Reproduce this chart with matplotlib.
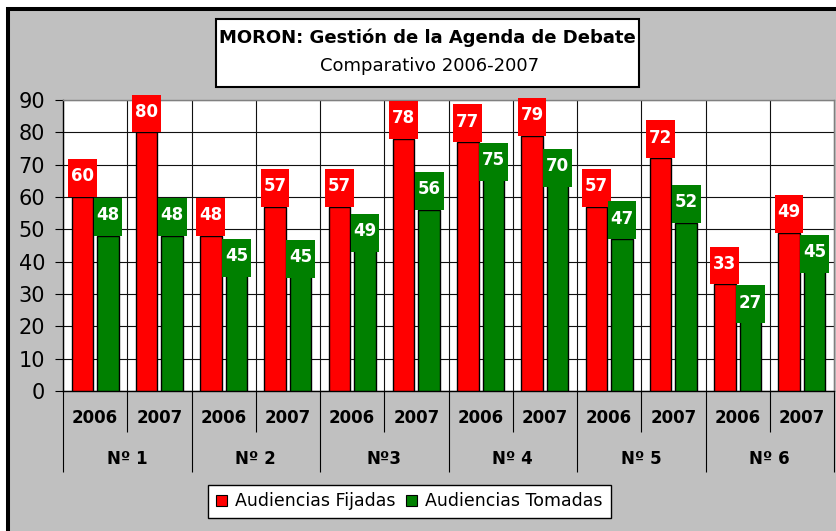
import matplotlib
matplotlib.use("Agg")
import matplotlib.pyplot as plt
from matplotlib.patches import Rectangle, Patch
import numpy as np

# ---- data ----
groups = ["Nº 1", "Nº 2", "Nº3", "Nº 4", "Nº 5", "Nº 6"]
years = ["2006", "2007"]
fijadas = [60, 80, 48, 57, 57, 78, 77, 79, 57, 72, 33, 49]
tomadas = [48, 48, 45, 45, 49, 56, 75, 70, 47, 52, 27, 45]
series_names = ["Audiencias Fijadas", "Audiencias Tomadas"]
title_main = "MORON: Gestión de la Agenda de Debate"
title_sub = "Comparativo 2006-2007"

# ---- layout / style (not data) ----
tomadas_label_shift = [0, 0, -9.7, -10, -6, 0, -10, -6.8, 0, 0, -6, -8.5]
RED = "#FF0000"
GREEN = "#008000"
GREY = "#C0C0C0"
W, H = 836, 531
plt.rcParams["font.family"] = ["DejaVu Sans"]

fig = plt.figure(figsize=(W / 100, H / 100), dpi=100, facecolor="white")

# outer grey frame with black border (left/top visible)
frame = Rectangle((8 / W, -20 / H), 860 / W, (H - 9 + 20) / H, transform=fig.transFigure,
                  facecolor=GREY, edgecolor="black", linewidth=2.9, zorder=-5)
fig.add_artist(frame)

ax = fig.add_axes([63 / W, 140 / H, 771 / W, 291 / H])
ax.set_facecolor("white")

n = len(fijadas)
x = np.arange(n) + 0.5
off = 0.2
bw = 0.335
lbw = 0.45
lbh = 11.66

ax.bar(x - off, fijadas, width=bw, color=RED, edgecolor="black", linewidth=1.0, zorder=3)
ax.bar(x + off, tomadas, width=bw, color=GREEN, edgecolor="black", linewidth=1.0, zorder=3)

# label boxes
red_bottoms = np.array(fijadas, dtype=float)
green_bottoms = np.array(tomadas, dtype=float) + np.array(tomadas_label_shift)
ax.bar(x - off, [lbh] * n, bottom=red_bottoms, width=lbw, color=RED, linewidth=0,
       zorder=4, clip_on=False)
ax.bar(x + off, [lbh] * n, bottom=green_bottoms, width=lbw, color=GREEN, linewidth=0,
       zorder=4, clip_on=False)
for xi, b, v in zip(x - off, red_bottoms, fijadas):
    ax.text(xi, b + 4.8, f"{v}", ha="center", va="baseline", color="white",
            fontsize=12, fontweight="bold", zorder=5, clip_on=False)
for xi, b, v in zip(x + off, green_bottoms, tomadas):
    ax.text(xi, b + 4.8, f"{v}", ha="center", va="baseline", color="white",
            fontsize=12, fontweight="bold", zorder=5, clip_on=False)

ax.set_xlim(0, n)
ax.set_ylim(0, 90)
ax.set_yticks(np.arange(0, 91, 10))
ax.tick_params(axis="y", direction="out", length=5.8, width=0.8, pad=7, labelsize=15,
               colors="black")

# x ticks as separators
ax.set_xticks(np.arange(0, n + 1, 2))
ax.set_xticks(np.arange(1, n, 2), minor=True)
ax.tick_params(axis="x", which="major", direction="out", length=58.3, width=0.8,
               labelbottom=False, colors="black")
ax.tick_params(axis="x", which="minor", direction="out", length=29.5, width=0.8,
               labelbottom=False, colors="black")

ax.set_axisbelow(True)
ax.yaxis.grid(True, color="#111111", linewidth=0.8)
ax.xaxis.grid(True, which="both", color="#111111", linewidth=0.8)

for s in ["top", "right"]:
    ax.spines[s].set_color("#808080")
    ax.spines[s].set_linewidth(1.0)
for s in ["left", "bottom"]:
    ax.spines[s].set_color("black")
    ax.spines[s].set_linewidth(1.0)

# category labels
trans = ax.get_xaxis_transform()
ax_h = 291.0
for i in range(n):
    ax.text(x[i], -(423 - 391) / ax_h, years[i % 2], transform=trans, ha="center",
            va="baseline", fontsize=12, fontweight="bold")
for g, name in enumerate(groups):
    ax.text(2 * g + 1, -(464 - 391) / ax_h, name, transform=trans, ha="center",
            va="baseline", fontsize=12, fontweight="bold")

# title box
fig.add_artist(Rectangle((216 / W, 1 - 87 / H), (639 - 216) / W, 68 / H,
                         transform=fig.transFigure, facecolor="white",
                         edgecolor="black", linewidth=1.5, zorder=5))
fig.text(427.5 / W, 1 - 43 / H, title_main, ha="center", va="baseline",
         fontsize=13, fontweight="bold", zorder=6)
fig.text(429.5 / W, 1 - 71 / H, title_sub, ha="center", va="baseline",
         fontsize=13, zorder=6)

# legend
handles = [Patch(facecolor=RED, edgecolor="black", linewidth=0.8),
           Patch(facecolor=GREEN, edgecolor="black", linewidth=0.8)]
leg = fig.legend(handles, series_names, loc="center",
                 bbox_to_anchor=(409.5 / W, 1 - 501.5 / H), ncol=2, fontsize=12.5,
                 handlelength=0.6, handleheight=0.6, handletextpad=0.5,
                 columnspacing=0.6, borderpad=0.45, fancybox=False, framealpha=1,
                 edgecolor="black", facecolor="white")
leg.get_frame().set_linewidth(1.0)

fig.savefig("out.png", dpi=100, facecolor=fig.get_facecolor())
